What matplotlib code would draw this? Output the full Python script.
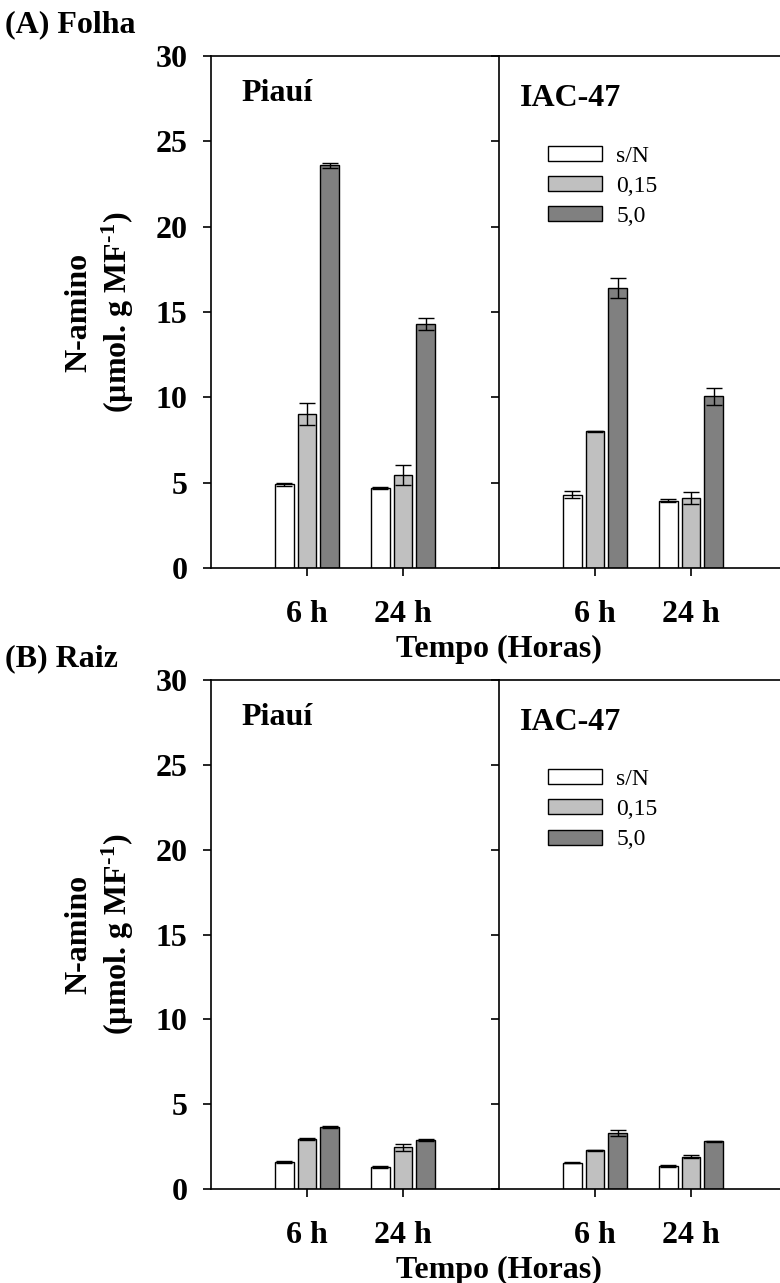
import matplotlib
matplotlib.use('Agg')
import matplotlib.pyplot as plt
import numpy as np

plt.rcParams['font.family'] = ['Liberation Serif', 'DejaVu Serif']
plt.rcParams['font.weight'] = 'bold'
plt.rcParams['mathtext.fontset'] = 'custom'
plt.rcParams['mathtext.rm'] = 'Liberation Serif:bold'
plt.rcParams['mathtext.it'] = 'Liberation Serif:bold'
plt.rcParams['mathtext.bf'] = 'Liberation Serif:bold'

# ---------------- data ----------------
hours = ['6 h', '24 h']
treatments = ['s/N', '0,15', '5,0']
colors = ['#ffffff', '#c0c0c0', '#808080']

leaf_piaui = [[4.9, 4.7], [9.0, 5.45], [23.6, 14.3]]
leaf_piaui_err = [[0.1, 0.05], [0.65, 0.6], [0.15, 0.35]]
leaf_iac = [[4.3, 3.95], [8.0, 4.1], [16.4, 10.05]]
leaf_iac_err = [[0.2, 0.1], [0.05, 0.35], [0.6, 0.5]]

root_piaui = [[1.6, 1.3], [2.95, 2.45], [3.65, 2.9]]
root_piaui_err = [[0.04, 0.04], [0.04, 0.22], [0.06, 0.05]]
root_iac = [[1.55, 1.35], [2.27, 1.9], [3.3, 2.8]]
root_iac_err = [[0.04, 0.08], [0.03, 0.1], [0.2, 0.05]]

cultivars = ['Piauí', 'IAC-47']
yticks = [0, 5, 10, 15, 20, 25, 30]

W, H = 780, 1283
fig = plt.figure(figsize=(W / 100, H / 100), dpi=100)


def rect(x0, ytop, x1, ybot):
    return [x0 / W, 1 - ybot / H, (x1 - x0) / W, (ybot - ytop) / H]


bw = 0.19
offsets = [-0.235, 0.0, 0.235]


def draw(ax, vals, errs, title, first, legend):
    x = np.arange(1, len(hours) + 1)
    bars = []
    for i in range(len(treatments)):
        b = ax.bar(x + offsets[i], vals[i], width=bw, color=colors[i],
                   edgecolor='black', linewidth=1.0, label=treatments[i], zorder=2)
        bars.append(b)
        ax.errorbar(x + offsets[i], vals[i], yerr=errs[i], fmt='none',
                    ecolor='black', elinewidth=1.0, capsize=6, capthick=1.0, zorder=3)
    ax.set_xlim(0, 3)
    ax.set_ylim(0, 30)
    ax.set_yticks(yticks)
    ax.set_xticks(x)
    ax.set_xticklabels(hours, fontsize=23, fontweight='bold')
    ax.spines['right'].set_visible(False)
    for s in ['left', 'top', 'bottom']:
        ax.spines[s].set_linewidth(1.2)
    ax.tick_params(axis='y', direction='out', length=6, width=1.2, pad=11,
                   labelsize=23, labelleft=first)
    ax.tick_params(axis='x', direction='out', length=6, width=1.2, pad=17)
    if first:
        ax.text(0.104, 0.912, title, transform=ax.transAxes, fontsize=23,
                fontweight='bold', ha='left', va='baseline')
        ax.set_ylabel('N-amino\n(µmol. g MF$^{\\text{-1}}$)', fontsize=23,
                      fontweight='bold', linespacing=1.25, labelpad=14)
    else:
        ax.text(0.073, 0.902, title, transform=ax.transAxes, fontsize=23,
                fontweight='bold', ha='left', va='baseline')
    if legend:
        ax.legend(handles=bars, labels=treatments, loc='upper left',
                  bbox_to_anchor=(0.17, 0.825), frameon=False,
                  prop={'family': 'Liberation Serif', 'weight': 'normal', 'size': 17},
                  handlelength=2.3, handleheight=0.6, handletextpad=0.6,
                  labelspacing=0.39, borderpad=0, borderaxespad=0)


panels = [
    (56, 568, leaf_piaui, leaf_piaui_err, leaf_iac, leaf_iac_err),
    (680, 1189, root_piaui, root_piaui_err, root_iac, root_iac_err),
]
for (yt, yb, v1, e1, v2, e2) in panels:
    axL = fig.add_axes(rect(211, yt, 499, yb))
    axR = fig.add_axes(rect(499, yt, 787, yb))
    draw(axL, v1, e1, cultivars[0], True, False)
    draw(axR, v2, e2, cultivars[1], False, True)
    fig.text(499 / W, 1 - (yb + 81) / H, 'Tempo (Horas)', fontsize=23,
             fontweight='bold', ha='center', va='center')

fig.text(5 / W, 1 - 32 / H, '(A) Folha', fontsize=23, fontweight='bold',
         ha='left', va='baseline')
fig.text(5 / W, 1 - 666 / H, '(B) Raiz', fontsize=23, fontweight='bold',
         ha='left', va='baseline')

fig.savefig('out.png', dpi=100)
